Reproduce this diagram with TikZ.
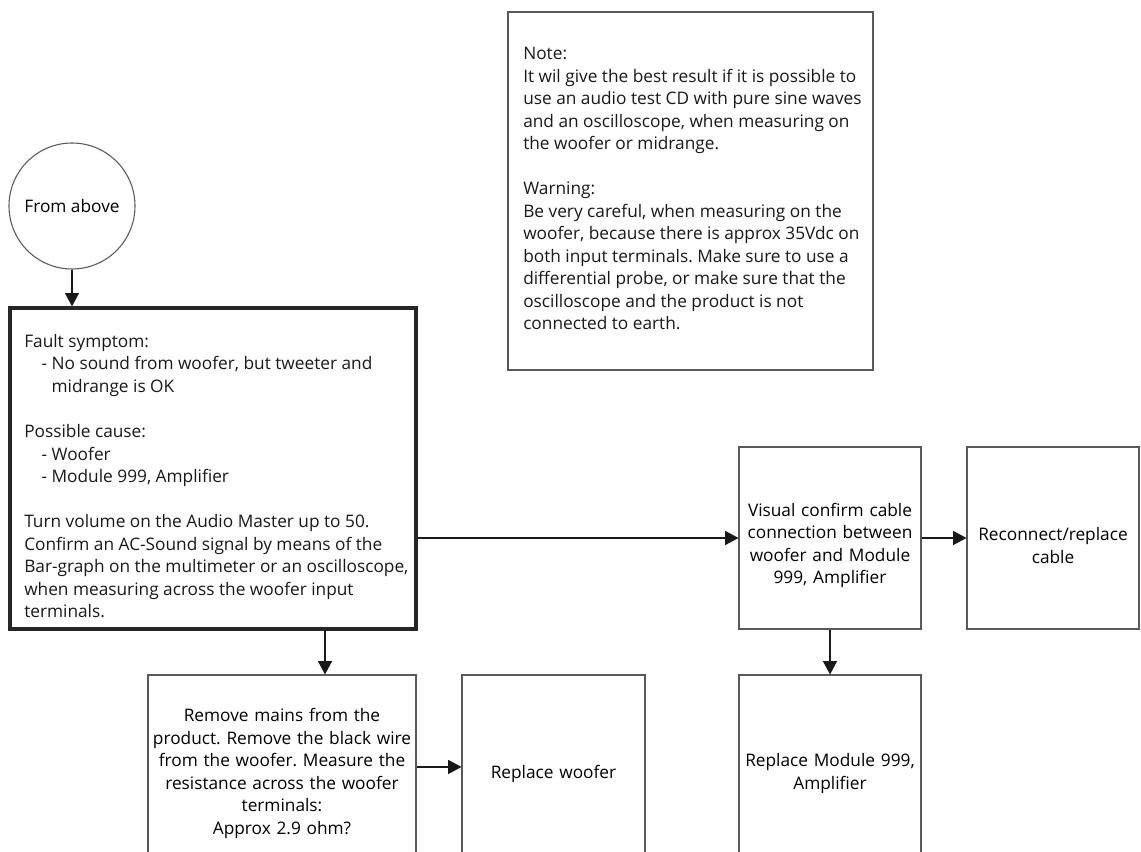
\documentclass[tikz,border=0pt]{standalone}
\usepackage{fontspec}
\setmainfont{Open Sans}
\usetikzlibrary{arrows.meta}
\newcommand{\diagfont}{\fontsize{12.95}{16.9}\selectfont}
\newcommand{\pushdown}{\rule{0pt}{21pt}}
\frenchspacing
\begin{document}
\frenchspacing
\begin{tikzpicture}[x=0.75pt,y=-0.75pt,
  box/.style={draw=black!65, line width=0.8pt, inner sep=0pt, font=\diagfont, align=center},
  txt/.style={inner sep=0pt, font=\diagfont, align=left, anchor=north west, text=black!90},
  arr/.style={-{Triangle[length=10pt,width=10.5pt]}, line width=0.8pt, draw=black!90, fill=black!90}]
\clip (0,0) rectangle (1141,852);
\fill[white] (0,0) rectangle (1141,852);
% nodes
\node[box, circle, minimum size=94.5pt] (above) at (72,206) {From above};
\node[box, draw=black!85, line width=2.4pt, minimum width=304.5pt, minimum height=240.75pt] (main) at (213,468.5) {};
\node[txt] (maintext) at (24,334) {Fault symptom:\\
\hspace*{13pt}- No sound from woofer, but tweeter and\\
\hspace*{20.5pt}midrange is OK\\[16.9pt]
Possible cause:\\
\hspace*{13pt}- Woofer\\
\hspace*{13pt}- Module 999, Amplifier\\[16.9pt]
Turn volume on the Audio Master up to 50.\\
Confirm an AC-Sound signal by means of the\\
Bar-graph on the multimeter or an oscilloscope,\\
when measuring across the woofer input\\
terminals.};
\node[box, minimum width=273.75pt, minimum height=268.5pt] (note) at (690.5,191) {};
\node[txt] (notetext) at (523,47) {Note:\\
It wil give the best result if it is possible to\\
use an audio test CD with pure sine waves\\
and an oscilloscope, when measuring on\\
the woofer or midrange.\\[16.9pt]
Warning:\\
Be very careful, when measuring on the\\
woofer, because there is approx 35Vdc on\\
both input terminals. Make sure to use a\\
differential probe, or make sure that the\\
oscilloscope and the product is not\\
connected to earth.};
\node[box, minimum width=136.5pt, minimum height=136.5pt, text width=132pt] (visual) at (830,538) {\pushdown Visual confirm cable\\connection between\\woofer and Module\\999, Amplifier};
\node[box, minimum width=129pt, minimum height=136.5pt, text width=126pt] (reconnect) at (1053,538) {\pushdown Reconnect/replace\\cable};
\node[box, minimum width=136.5pt, minimum height=147.75pt, text width=134pt] (replmod) at (830,773.5) {Replace Module 999,\\Amplifier};
\node[box, minimum width=201pt, minimum height=147.75pt, text width=198pt] (remove) at (282,773.5) {Remove mains from the\\product. Remove the black wire\\from the woofer. Measure the\\resistance across the woofer\\terminals:\\Approx 2.9 ohm?};
\node[box, minimum width=137.25pt, minimum height=147.75pt, text width=132pt] (replwoof) at (553.5,773.5) {Replace woofer};
% connectors
\draw[arr] (above.south) -- (above.south |- main.north);
\draw[arr] (visual.west -| main.east) -- (visual.west);
\draw[arr] (visual.east) -- (reconnect.west);
\draw[arr] (visual.south) -- (replmod.north);
\draw[arr] ([xshift=32.25pt]remove.north |- main.south) -- ([xshift=32.25pt]remove.north);
\draw[arr] ([yshift=4.9pt]remove.east) -- ([yshift=4.9pt]remove.east -| replwoof.west);
\end{tikzpicture}
\end{document}
